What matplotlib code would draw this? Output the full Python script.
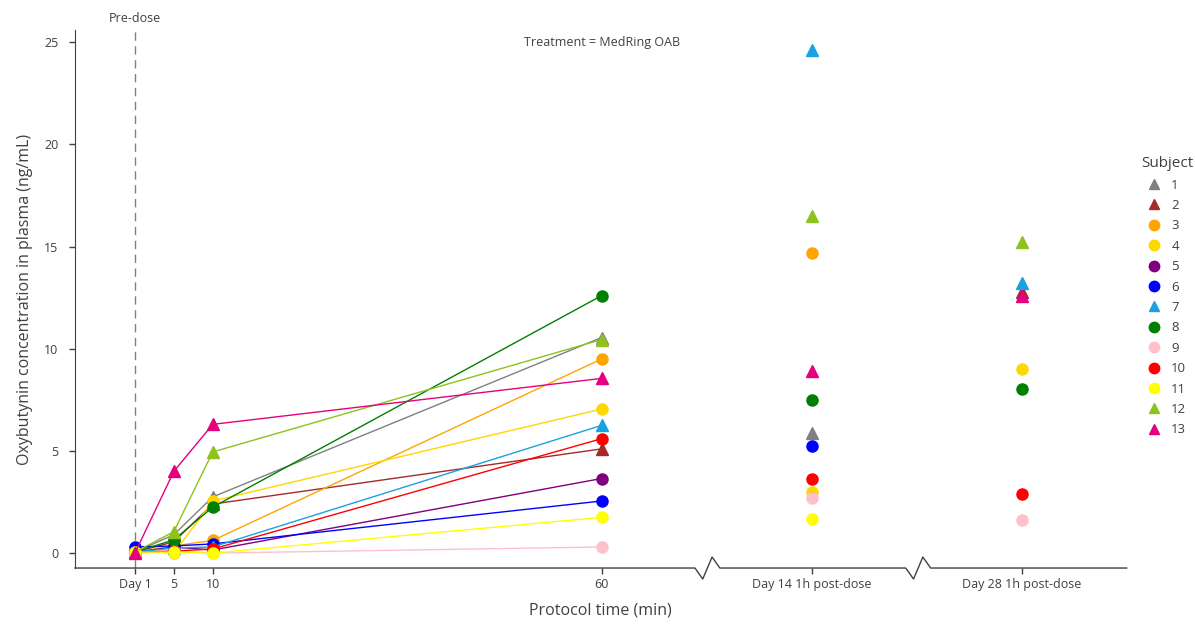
import numpy as np
import matplotlib.pyplot as plt
import matplotlib.transforms as mtransforms
from matplotlib.lines import Line2D

plt.rcParams['font.family'] = ['Open Sans', 'DejaVu Sans']

# protocol time (min) for the profile, then two follow-up visits
times = [0, 5, 10, 60]
x_day14 = 87
x_day28 = 114
tick_pos = [0, 5, 10, 60, x_day14, x_day28]
tick_labels = ['Day 1', '5', '10', '60', 'Day 14 1h post-dose', 'Day 28 1h post-dose']

subjects = ['1', '2', '3', '4', '5', '6', '7', '8', '9', '10', '11', '12', '13']
profile = [
    [0.05, 0.90, 2.75, 10.55],
    [0.05, 0.55, 2.40, 5.10],
    [0.05, 0.35, 0.62, 9.50],
    [0.10, 0.00, 2.55, 7.05],
    [0.05, 0.30, 0.15, 3.65],
    [0.30, 0.35, 0.45, 2.55],
    [0.05, 0.25, 0.30, 6.25],
    [0.05, 0.65, 2.25, 12.60],
    [0.00, 0.10, 0.00, 0.30],
    [0.05, 0.10, 0.20, 5.60],
    [0.05, 0.05, 0.00, 1.75],
    [0.05, 1.05, 4.95, 10.45],
    [0.00, 4.00, 6.30, 8.55],
]
day14 = [5.9, None, 14.7, 3.0, None, 5.25, 24.6, 7.5, 2.7, 3.65, 1.65, 16.5, 8.9]
day28 = [None, 12.8, None, 9.0, None, None, 13.2, 8.05, 1.6, 2.9, None, 15.2, 12.6]

colors = ['#808080', '#A52A2A', '#FFA500', '#FFD700', '#800080', '#0000FF',
          '#1BA1E2', '#008000', '#FFC0CB', '#FF0000', '#FFFF00', '#8DC21F', '#E6007E']
markers = ['^', '^', 'o', 'o', 'o', 'o', '^', 'o', 'o', 'o', 'o', '^', '^']

fig = plt.figure(figsize=(11.95, 6.24), dpi=100)
ax = fig.add_axes([0.0628, 0.0897, 0.880, 0.8623])

txt = '#404040'

ax.axvline(0, color='#808080', ls=(0, (6, 4)), lw=1, zorder=1)

for i in range(len(subjects)):
    ms = 8 if markers[i] == 'o' else 8.5
    ax.plot(times, profile[i], color=colors[i], lw=1, marker=markers[i], ms=ms, zorder=3)
    if day14[i] is not None:
        ax.plot(x_day14, day14[i], color=colors[i], marker=markers[i], ms=ms, ls='none', zorder=3)
    if day28[i] is not None:
        ax.plot(x_day28, day28[i], color=colors[i], marker=markers[i], ms=ms, ls='none', zorder=3)

ax.set_xlim(-7.7, 127.5)
ax.set_ylim(-0.73, 25.6)
ax.set_yticks([0, 5, 10, 15, 20, 25])
ax.set_xticks(tick_pos)
ax.set_xticklabels(tick_labels)
ax.tick_params(axis='both', labelsize=9, colors='#404040', labelcolor=txt, length=4, width=1)
ax.tick_params(axis='y', pad=8)

for s in ['top', 'right', 'bottom']:
    ax.spines[s].set_visible(False)
ax.spines['left'].set_color('#404040')

# x axis line with break marks
trans = mtransforms.blended_transform_factory(ax.transData, ax.transAxes)
pix = 1.0 / (0.8623 * 624)
b1, b2 = 73.5, 100.6
bx = [-7.7, b1 - 1.5, b1 - 0.5, b1 + 0.7, b1 + 1.7, b2 - 1.5, b2 - 0.5, b2 + 0.7, b2 + 1.7, 127.5]
by = [0, 0, -11 * pix, 11 * pix, 0, 0, -11 * pix, 11 * pix, 0, 0]
ax.plot(bx, by, color='#404040', lw=1, transform=trans, clip_on=False, zorder=4)

ax.set_xlabel('Protocol time (min)', fontsize=11.5, color=txt, labelpad=8)
ax.set_ylabel('Oxybutynin concentration in plasma (ng/mL)', fontsize=11.5, color=txt, labelpad=8)

fig.text(135 / 1195, 1 - 18 / 624, 'Pre-dose', ha='center', va='center', fontsize=9, color=txt)
ax.text(60, 25.0, 'Treatment = MedRing OAB', ha='center', va='center', fontsize=9, color=txt)

handles = [Line2D([], [], ls='none', marker=markers[i], color=colors[i], ms=7.5) for i in range(len(subjects))]
leg = fig.legend(handles, subjects, title='Subject', loc='upper left',
                 bbox_to_anchor=(1136 / 1195, 1 - 151 / 624), frameon=False,
                 fontsize=9.5, title_fontsize=11, handlelength=2.0, handletextpad=0.27,
                 labelspacing=0.56, borderaxespad=0)
leg._legend_box.align = 'left'
for t in leg.get_texts():
    t.set_color(txt)
leg.get_title().set_color(txt)

fig.savefig('out.png', dpi=100)
